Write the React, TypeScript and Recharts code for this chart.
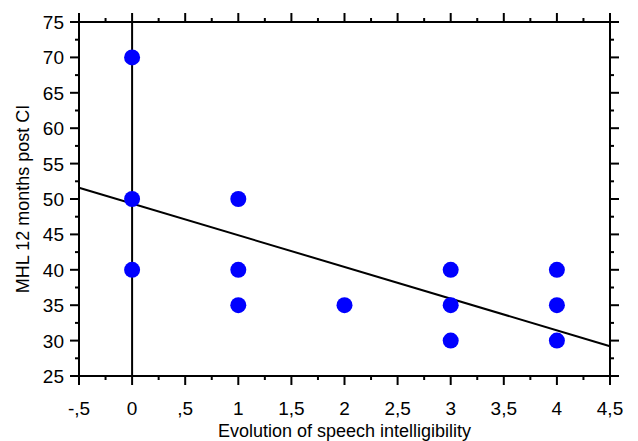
import React from "react";
import {
  ScatterChart,
  Scatter,
  XAxis,
  YAxis,
  ReferenceLine,
} from "recharts";

// scores
const speechScores = [0, 0, 0, 1, 1, 1, 2, 3, 3, 3, 4, 4, 4];
const mhlValues = [70, 50, 40, 50, 40, 35, 35, 40, 35, 30, 40, 35, 30];

// fitted line ends (read at the frame edges)
const fitX = [-0.5, 4.5];
const fitY = [51.6, 29.2];

const xTicks = [
  -0.5, -0.25, 0, 0.25, 0.5, 0.75, 1, 1.25, 1.5, 1.75, 2, 2.25, 2.5, 2.75, 3,
  3.25, 3.5, 3.75, 4, 4.25, 4.5,
];
const yTicks = [
  25, 27.5, 30, 32.5, 35, 37.5, 40, 42.5, 45, 47.5, 50, 52.5, 55, 57.5, 60,
  62.5, 65, 67.5, 70, 72.5, 75,
];

const points = speechScores.map((x, i) => ({ x, y: mhlValues[i] }));

const FONT = "'Liberation Sans', Arial, sans-serif";
const MAJOR = 9;
const MINOR = 4;

const fmt = (v: number) =>
  String(v).replace(".", ",").replace(/^0,/, ",").replace(/^-0,/, "-,");

const isMajorX = (v: number) => Math.abs(v * 2 - Math.round(v * 2)) < 1e-6;
const isMajorY = (v: number) => Math.abs(v / 5 - Math.round(v / 5)) < 1e-6;

function BottomTick(props: any) {
  const { x, y, payload } = props;
  const major = isMajorX(payload.value);
  return (
    <g>
      <line x1={x} x2={x} y1={y} y2={y + (major ? MAJOR : MINOR)} stroke="#000" strokeWidth={2} />
      {major && (
        <text x={x} y={y + 39} textAnchor="middle" fontSize={19} fontFamily={FONT} fill="#000">
          {fmt(payload.value)}
        </text>
      )}
    </g>
  );
}

function TopTick(props: any) {
  const { x, y, payload } = props;
  const major = isMajorX(payload.value);
  return <line x1={x} x2={x} y1={y} y2={y - (major ? MAJOR : MINOR)} stroke="#000" strokeWidth={2} />;
}

function LeftTick(props: any) {
  const { x, y, payload } = props;
  const major = isMajorY(payload.value);
  return (
    <g>
      <line x1={x} x2={x - (major ? MAJOR : MINOR)} y1={y} y2={y} stroke="#000" strokeWidth={2} />
      {major && (
        <text x={x - 15} y={y + 7} textAnchor="end" fontSize={19} fontFamily={FONT} fill="#000">
          {payload.value}
        </text>
      )}
    </g>
  );
}

function RightTick(props: any) {
  const { x, y, payload } = props;
  const major = isMajorY(payload.value);
  return <line x1={x} x2={x + (major ? MAJOR : MINOR)} y1={y} y2={y} stroke="#000" strokeWidth={2} />;
}

const Dot = (props: any) => <circle cx={props.cx} cy={props.cy} r={8} fill="#0000ff" />;

export default function App() {
  return (
    <div style={{ position: "absolute", left: 0, top: 0, background: "#fff" }}>
      <ScatterChart width={638} height={441} margin={{ top: 0, right: 0, bottom: 0, left: 0 }}>
        <XAxis
          type="number"
          dataKey="x"
          xAxisId="bottom"
          orientation="bottom"
          domain={[-0.5, 4.5]}
          ticks={xTicks}
          interval={0}
          height={65}
          tickSize={0}
          tickMargin={0}
          tickLine={false}
          tick={<BottomTick />}
          axisLine={{ stroke: "#000", strokeWidth: 2 }}
          allowDataOverflow
          label={{
            value: "Evolution of speech intelligibility",
            position: "insideBottom",
            offset: 4,
            fontSize: 18,
            fontFamily: FONT,
            fill: "#000",
          }}
        />
        <XAxis
          type="number"
          dataKey="x"
          xAxisId="top"
          orientation="top"
          domain={[-0.5, 4.5]}
          ticks={xTicks}
          interval={0}
          height={22}
          tickSize={0}
          tickMargin={0}
          tickLine={false}
          tick={<TopTick />}
          axisLine={{ stroke: "#000", strokeWidth: 2 }}
          allowDataOverflow
        />
        <YAxis
          type="number"
          dataKey="y"
          yAxisId="left"
          orientation="left"
          domain={[25, 75]}
          ticks={yTicks}
          interval={0}
          width={79}
          tickSize={0}
          tickMargin={0}
          tickLine={false}
          tick={<LeftTick />}
          axisLine={{ stroke: "#000", strokeWidth: 2 }}
          allowDataOverflow
          label={{
            value: "MHL 12 months post CI",
            angle: -90,
            position: "insideLeft",
            offset: 23,
            style: { textAnchor: "middle" },
            fontSize: 18,
            fontFamily: FONT,
            fill: "#000",
          }}
        />
        <YAxis
          type="number"
          dataKey="y"
          yAxisId="right"
          orientation="right"
          domain={[25, 75]}
          ticks={yTicks}
          interval={0}
          width={28}
          tickSize={0}
          tickMargin={0}
          tickLine={false}
          tick={<RightTick />}
          axisLine={{ stroke: "#000", strokeWidth: 2 }}
          allowDataOverflow
        />
        <ReferenceLine xAxisId="bottom" yAxisId="left" x={0} stroke="#000" strokeWidth={2} />
        <ReferenceLine
          xAxisId="bottom"
          yAxisId="left"
          segment={[
            { x: fitX[0], y: fitY[0] },
            { x: fitX[1], y: fitY[1] },
          ]}
          stroke="#000"
          strokeWidth={2}
          ifOverflow="visible"
        />
        <Scatter
          data={points}
          xAxisId="bottom"
          yAxisId="left"
          shape={<Dot />}
          isAnimationActive={false}
        />
        <Scatter
          data={points}
          xAxisId="top"
          yAxisId="right"
          shape={() => null}
          isAnimationActive={false}
        />
      </ScatterChart>
    </div>
  );
}
